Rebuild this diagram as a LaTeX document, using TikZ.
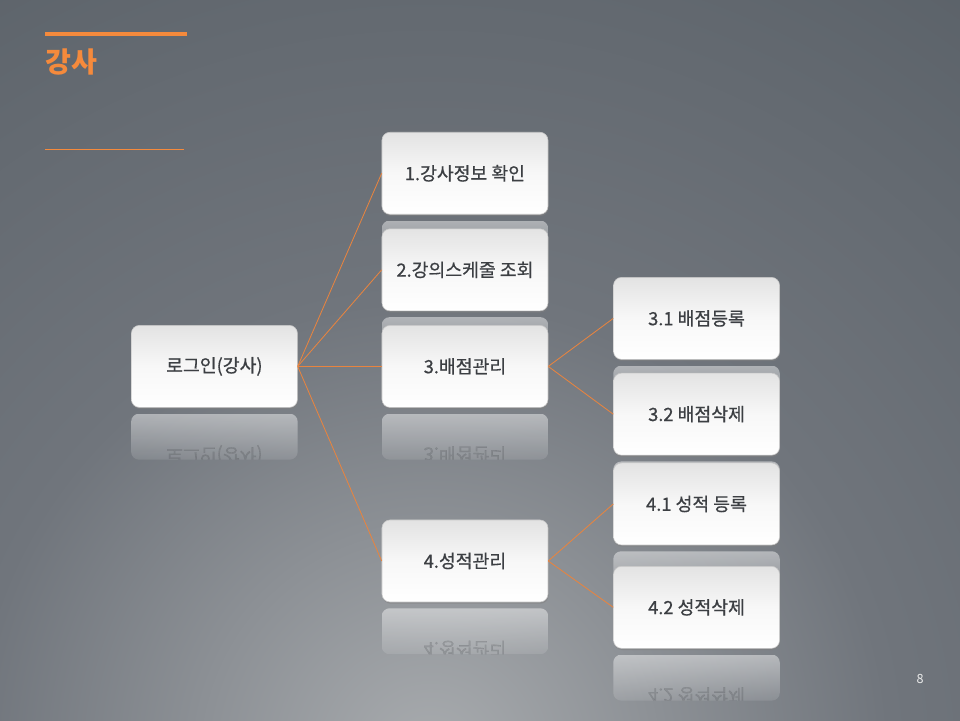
\documentclass[tikz,border=0pt]{standalone}
\usepackage{fontspec}
\usepackage{tikz}
\usetikzlibrary{positioning,calc,shadows,fadings}
\newfontfamily\kr{Noto Sans CJK KR}
\newfontfamily\krbox{Noto Sans CJK KR}[FakeBold=0.6]

\definecolor{accent}{HTML}{F58A3C}
\definecolor{linkcol}{HTML}{E8843F}
\definecolor{boxtext}{HTML}{3C3F43}
\definecolor{bgin}{HTML}{A9ACAF}
\definecolor{bgmid}{HTML}{70757C}
\definecolor{bgout}{HTML}{596067}

\pgfdeclareradialshading{bgshade}{\pgfpointorigin}{color(0cm)=(bgin); color(11.5cm)=(bgmid); color(25cm)=(bgout)}
\tikzfading[name=reflfade, top color=transparent!55, bottom color=transparent!90]

\pgfdeclarelayer{bg}
\pgfdeclarelayer{mid}
\pgfsetlayers{bg,mid,main}

\newcommand{\mirrorbox}[2]{%
	\begin{scope}
		\clip[rounded corners=0.2cm] ($(#1.south west)+(0,-0.15)$) rectangle ($(#1.south east)+(0,-1.3)$);
		\fill[white, path fading=reflfade] ($(#1.south west)+(0,-0.15)$) rectangle ($(#1.south east)+(0,-1.3)$);
		\node[mirror text] at ($(#1.center)+(0,-2.2)$) {\scalebox{1}[-1]{#2}};
	\end{scope}}

\begin{document}
\begin{tikzpicture}[
		main node/.style={rectangle,rounded corners=0.2cm,draw=black!22,line width=0.4pt,
			top color=black!11,bottom color=white,middle color=black!3,
			minimum width=4.15cm,minimum height=2.05cm,inner sep=0pt,text=boxtext,
			font=\krbox\fontsize{13}{15}\selectfont,
			drop shadow={shadow xshift=0.4pt,shadow yshift=-1.2pt,opacity=0.5}},
		mirror text/.style={inner sep=0pt,text=boxtext,opacity=0.2,font=\krbox\fontsize{13}{15}\selectfont},
		link/.style={draw=linkcol,line width=0.6pt}]
		
		\useasboundingbox (0,0) rectangle (24,18);
		
		\node[main node] (0) at (5.36,8.84) {로그인(강사)};
		\node[main node] (3) [right=2.1cm of 0] {3.배점관리};
		\node[main node] (2) [above=0.35cm of 3] {2.강의스케줄 조회};
		\node[main node] (1) [above=0.35cm of 2] {1.강사정보 확인};
		\node[main node] (4) [below=2.8cm of 3] {4.성적관리};
		\node[main node] (31) [right=1.625cm of 3, yshift=1.2cm] {3.1 배점등록};
		\node[main node] (32) [below=0.33cm of 31] {3.2 배점삭제};
		\node[main node] (41) [right=1.625cm of 4, yshift=1.425cm] {4.1 성적 등록};
		\node[main node] (42) [below=0.52cm of 41] {4.2 성적삭제};
		
		\path[link]
		(0.east) edge (1.west)
		(0.east) edge (2.west)
		(0.east) edge (3.west)
		(0.east) edge (4.west)
		(3.east) edge (31.west)
		(3.east) edge (32.west)
		(4.east) edge (41.west)
		(4.east) edge (42.west);
		
		% title
		\draw[accent,line width=0.1cm] (1.125,17.1375) -- (4.675,17.1375);
		\node[anchor=west,inner sep=0pt,text=accent,font=\kr\bfseries\fontsize{20}{24}\selectfont] (title) at (1.125,16.45) {강사};
		\draw[accent,line width=0.6pt] (1.125,14.275) -- (4.6,14.275);
		\node[text=white!92!black,font=\kr\fontsize{9}{11}\selectfont] (page) at (23.0,1.025) {8};
		
		\begin{pgfonlayer}{mid}
			\foreach \n/\t in {0/로그인(강사),1/1.강사정보 확인,2/2.강의스케줄 조회,3/3.배점관리,4/4.성적관리,31/3.1 배점등록,32/3.2 배점삭제,41/4.1 성적 등록,42/4.2 성적삭제}
			{\mirrorbox{\n}{\t}}
		\end{pgfonlayer}
		
		\begin{pgfonlayer}{bg}
			\fill[bgout] (0,0) rectangle (24,18);
			\begin{scope}
				\clip (0,0) rectangle (24,18);
				\node[inner sep=0pt] (glow) at (10.75,-1) {\pgfuseshading{bgshade}};
			\end{scope}
		\end{pgfonlayer}
\end{tikzpicture}
\end{document}
